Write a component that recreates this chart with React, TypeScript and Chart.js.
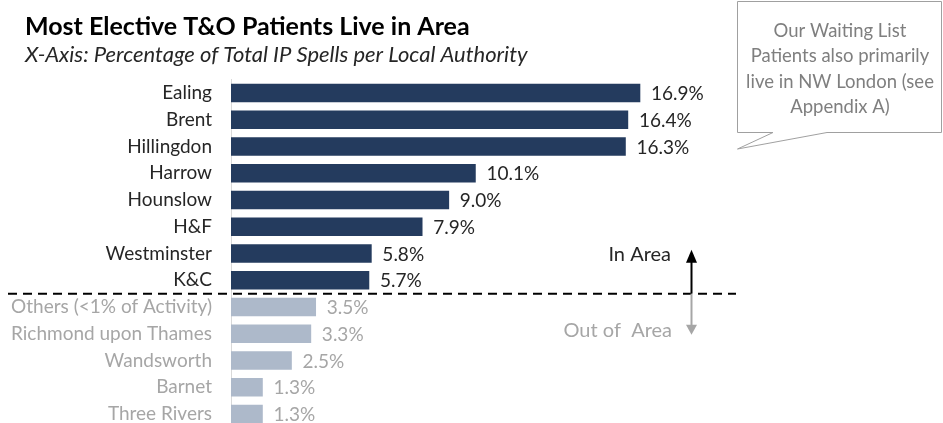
import React, { useEffect, useRef } from "react";
import { Chart, registerables } from "chart.js";

Chart.register(...registerables);

const categories = [
  "Ealing",
  "Brent",
  "Hillingdon",
  "Harrow",
  "Hounslow",
  "H&F",
  "Westminster",
  "K&C",
  "Others (<1% of Activity)",
  "Richmond upon Thames",
  "Wandsworth",
  "Barnet",
  "Three Rivers",
];
const values = [16.9, 16.4, 16.3, 10.1, 9.0, 7.9, 5.8, 5.7, 3.5, 3.3, 2.5, 1.3, 1.3];
const inAreaCount = 8;
const titleText = "Most Elective T&O Patients Live in Area";
const subtitleText = "X-Axis: Percentage of Total IP Spells per Local Authority";
const calloutLines = ["Our Waiting List", "Patients also primarily", "live in NW London (see", "Appendix A)"];
const inAreaLabel = "In Area";
const outAreaLabel = "Out of  Area";

const NAVY = "#243b5e";
const LIGHT = "#adb9ca";
const DARK_TEXT = "#262626";
const GRAY_TEXT = "#a6a6a6";
const FONT = "Lato, 'Open Sans', sans-serif";

const W = 943;
const H = 440;

const overlayPlugin = {
  id: "overlay",
  afterDraw(chart: any) {
    const ctx = chart.ctx as CanvasRenderingContext2D;
    const yScale = chart.scales.y;
    const meta = chart.getDatasetMeta(0);
    ctx.save();

    // value labels
    ctx.font = `19px ${FONT}`;
    ctx.textBaseline = "middle";
    ctx.textAlign = "left";
    meta.data.forEach((el: any, i: number) => {
      ctx.fillStyle = i < inAreaCount ? DARK_TEXT : GRAY_TEXT;
      ctx.fillText(values[i].toFixed(1) + "%", el.x + 11, el.y + 1);
    });

    // dashed separator
    const sepY = (yScale.getPixelForValue(inAreaCount - 1) + yScale.getPixelForValue(inAreaCount)) / 2;
    ctx.beginPath();
    ctx.setLineDash([9, 6]);
    ctx.lineWidth = 2;
    ctx.strokeStyle = "#000";
    ctx.moveTo(8, sepY);
    ctx.lineTo(736, sepY);
    ctx.stroke();
    ctx.setLineDash([]);

    // arrows
    const ax = 691.5;
    ctx.lineWidth = 2;
    ctx.strokeStyle = "#000";
    ctx.fillStyle = "#000";
    ctx.beginPath();
    ctx.moveTo(ax, sepY);
    ctx.lineTo(ax, sepY - 32);
    ctx.stroke();
    ctx.beginPath();
    ctx.moveTo(ax, sepY - 44);
    ctx.lineTo(ax - 5.5, sepY - 31);
    ctx.lineTo(ax + 5.5, sepY - 31);
    ctx.closePath();
    ctx.fill();

    ctx.strokeStyle = GRAY_TEXT;
    ctx.fillStyle = GRAY_TEXT;
    ctx.beginPath();
    ctx.moveTo(ax, sepY);
    ctx.lineTo(ax, sepY + 32);
    ctx.stroke();
    ctx.beginPath();
    ctx.moveTo(ax, sepY + 41);
    ctx.lineTo(ax - 5.5, sepY + 31);
    ctx.lineTo(ax + 5.5, sepY + 31);
    ctx.closePath();
    ctx.fill();

    ctx.font = `20px ${FONT}`;
    ctx.textAlign = "right";
    ctx.textBaseline = "middle";
    ctx.fillStyle = DARK_TEXT;
    ctx.fillText(inAreaLabel, 671, sepY - 39);
    ctx.fillStyle = GRAY_TEXT;
    ctx.fillText(outAreaLabel, 672, sepY + 37);

    // callout box
    ctx.lineWidth = 1;
    ctx.strokeStyle = "#a0a0a0";
    ctx.fillStyle = "#fff";
    ctx.beginPath();
    ctx.moveTo(737.5, 1.5);
    ctx.lineTo(941.5, 1.5);
    ctx.lineTo(941.5, 132.5);
    ctx.lineTo(827, 132.5);
    ctx.lineTo(737.5, 149);
    ctx.lineTo(773, 132.5);
    ctx.lineTo(737.5, 132.5);
    ctx.closePath();
    ctx.fill();
    ctx.stroke();

    ctx.font = `18.5px ${FONT}`;
    ctx.textAlign = "center";
    ctx.fillStyle = "#7f7f7f";
    calloutLines.forEach((line, i) => {
      ctx.fillText(line, 840, 31 + i * 25.3);
    });

    // title & subtitle
    ctx.textAlign = "left";
    ctx.textBaseline = "alphabetic";
    ctx.fillStyle = "#000";
    ctx.font = `bold 25px ${FONT}`;
    ctx.fillText(titleText, 25, 35);
    ctx.fillStyle = "#262626";
    ctx.font = `italic 22px ${FONT}`;
    ctx.fillText(subtitleText, 25, 62);

    ctx.restore();
  },
};

export default function App() {
  const ref = useRef<HTMLCanvasElement | null>(null);

  useEffect(() => {
    if (!ref.current) return;
    const chart = new Chart(ref.current, {
      type: "bar",
      data: {
        labels: categories,
        datasets: [
          {
            data: values,
            backgroundColor: values.map((_, i) => (i < inAreaCount ? NAVY : LIGHT)),
            borderWidth: 0,
            barThickness: 18,
          },
        ],
      },
      options: {
        indexAxis: "y",
        responsive: false,
        animation: false,
        devicePixelRatio: 1,
        layout: { padding: { top: 79.6, bottom: H - 427.4, left: 0, right: 228 } },
        plugins: { legend: { display: false }, tooltip: { enabled: false }, title: { display: false } },
        scales: {
          x: { display: false, min: 0, max: 20 },
          y: {
            grid: { display: false, drawTicks: false },
            border: { display: true, color: "#d9d9d9", width: 1 },
            ticks: {
              padding: 19,
              font: { family: FONT, size: 19 },
              color: (c: any) => (c.index < inAreaCount ? DARK_TEXT : GRAY_TEXT),
            },
            afterFit: (scale: any) => {
              scale.width = 231;
              scale.paddingTop = 0;
              scale.paddingBottom = 0;
            },
          },
        },
      },
      plugins: [overlayPlugin],
    });
    return () => chart.destroy();
  }, []);

  return (
    <div style={{ position: "absolute", left: 0, top: 0, width: W, height: 423, overflow: "hidden", background: "#fff" }}>
      <canvas ref={ref} width={W} height={H} style={{ width: W, height: H, display: "block" }} />
    </div>
  );
}
